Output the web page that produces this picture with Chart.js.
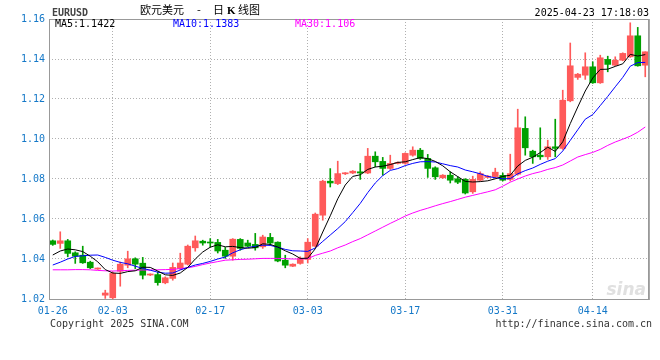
<!DOCTYPE html>
<html>
<head>
<meta charset="utf-8">
<script src="https://cdn.jsdelivr.net/npm/chart.js@4.4.1/dist/chart.umd.min.js"></script>
<style>
  html, body { margin: 0; padding: 0; background: #fff; }
  #wrap { position: relative; width: 660px; height: 360px; }
</style>
</head>
<body>
<div id="wrap"><canvas id="kline" width="660" height="360"></canvas></div>
<script>
// trading days shown on the x axis (MM-DD)
const dates = [
  '01-26', '01-27', '01-28', '01-29', '01-30', '01-31', '02-01', '02-02', '02-03',
  '02-04', '02-05', '02-06', '02-07', '02-08', '02-10', '02-11', '02-12', '02-13', '02-14', '02-15', '02-16', '02-17',
  '02-18', '02-19', '02-20', '02-21', '02-22', '02-24', '02-25', '02-26', '02-27', '02-28', '03-01', '03-02', '03-03',
  '03-04', '03-05', '03-06', '03-07', '03-08', '03-10', '03-11', '03-12', '03-13', '03-14', '03-15', '03-16', '03-17',
  '03-18', '03-19', '03-20', '03-21', '03-22', '03-24', '03-25', '03-26', '03-27', '03-28', '03-29', '03-30', '03-31',
  '04-01', '04-02', '04-03', '04-04', '04-05', '04-07', '04-08', '04-09', '04-10', '04-11', '04-12', '04-14',
  '04-15', '04-16', '04-17', '04-19', '04-21', '04-22', '04-23',
];
const tickDates = ['01-26', '02-03', '02-17', '03-03', '03-17', '03-31', '04-14'];
const yTicks = [1.02, 1.04, 1.06, 1.08, 1.10, 1.12, 1.14, 1.16];

const open = [
  1.0491, 1.0478, 1.0491, 1.0431, 1.0419, 1.0384, 1.0350, 1.0219, 1.0206, 1.0339,
  1.0369, 1.0401, 1.0379, 1.0320, 1.0322, 1.0281, 1.0303, 1.0352, 1.0374, 1.0456,
  1.0489, 1.0482, 1.0483, 1.0444, 1.0414, 1.0498, 1.0480, 1.0473, 1.0461, 1.0508,
  1.0484, 1.0394, 1.0364, 1.0378, 1.0398, 1.0464, 1.0619, 1.0789, 1.0777, 1.0826,
  1.0830, 1.0836, 1.0830, 1.0914, 1.0888, 1.0853, 1.0878, 1.0878, 1.0919, 1.0944,
  1.0903, 1.0856, 1.0806, 1.0819, 1.0801, 1.0798, 1.0736, 1.0794, 1.0808, 1.0812,
  1.0818, 1.0798, 1.0824, 1.1053, 1.0939, 1.0919, 1.0911, 1.0961, 1.0953, 1.1191,
  1.1308, 1.1319, 1.1361, 1.1281, 1.1398, 1.1369, 1.1394, 1.1411, 1.1516, 1.1369,
];
const high = [
  1.0495, 1.0536, 1.0498, 1.0436, 1.0464, 1.0389, 1.0355, 1.0244, 1.0335, 1.0385,
  1.0439, 1.0406, 1.0408, 1.0326, 1.0336, 1.0311, 1.0380, 1.0429, 1.0470, 1.0515,
  1.0494, 1.0502, 1.0498, 1.0458, 1.0502, 1.0502, 1.0494, 1.0528, 1.0519, 1.0528,
  1.0486, 1.0419, 1.0376, 1.0411, 1.0502, 1.0630, 1.0794, 1.0852, 1.0889, 1.0832,
  1.0842, 1.0878, 1.0953, 1.0936, 1.0908, 1.0919, 1.0886, 1.0931, 1.0961, 1.0953,
  1.0923, 1.0861, 1.0822, 1.0836, 1.0811, 1.0802, 1.0814, 1.0836, 1.0818, 1.0854,
  1.0830, 1.0924, 1.1149, 1.1111, 1.0944, 1.1056, 1.0994, 1.1099, 1.1244, 1.1480,
  1.1328, 1.1431, 1.1386, 1.1419, 1.1414, 1.1411, 1.1431, 1.1581, 1.1558, 1.1436,
];
const low = [
  1.0468, 1.0453, 1.0411, 1.0378, 1.0378, 1.0352, 1.0348, 1.0203, 1.0200, 1.0264,
  1.0356, 1.0352, 1.0300, 1.0317, 1.0269, 1.0276, 1.0294, 1.0347, 1.0370, 1.0439,
  1.0469, 1.0460, 1.0430, 1.0403, 1.0394, 1.0444, 1.0462, 1.0444, 1.0453, 1.0469,
  1.0386, 1.0356, 1.0362, 1.0374, 1.0380, 1.0461, 1.0594, 1.0760, 1.0772, 1.0822,
  1.0827, 1.0798, 1.0827, 1.0861, 1.0819, 1.0848, 1.0875, 1.0874, 1.0914, 1.0898,
  1.0808, 1.0798, 1.0803, 1.0780, 1.0777, 1.0725, 1.0728, 1.0792, 1.0805, 1.0804,
  1.0790, 1.0790, 1.0819, 1.0919, 1.0878, 1.0898, 1.0898, 1.0911, 1.0948, 1.1186,
  1.1298, 1.1298, 1.1278, 1.1278, 1.1336, 1.1366, 1.1391, 1.1408, 1.1364, 1.1311,
];
const close = [
  1.0473, 1.0491, 1.0428, 1.0414, 1.0381, 1.0356, 1.0353, 1.0230, 1.0328, 1.0374,
  1.0401, 1.0374, 1.0319, 1.0323, 1.0282, 1.0306, 1.0358, 1.0380, 1.0464, 1.0491,
  1.0480, 1.0480, 1.0440, 1.0414, 1.0499, 1.0453, 1.0464, 1.0456, 1.0510, 1.0480,
  1.0390, 1.0369, 1.0374, 1.0403, 1.0484, 1.0624, 1.0789, 1.0780, 1.0827, 1.0829,
  1.0839, 1.0830, 1.0914, 1.0886, 1.0853, 1.0878, 1.0883, 1.0928, 1.0944, 1.0903,
  1.0853, 1.0811, 1.0819, 1.0794, 1.0784, 1.0730, 1.0798, 1.0827, 1.0814, 1.0834,
  1.0794, 1.0827, 1.1056, 1.0956, 1.0911, 1.0911, 1.0961, 1.0953, 1.1194, 1.1366,
  1.1324, 1.1361, 1.1281, 1.1406, 1.1373, 1.1394, 1.1428, 1.1516, 1.1366, 1.1436,
];

// moving averages as drawn on the chart
const ma5 = [
  1.0420, 1.0440, 1.0450, 1.0446, 1.0437, 1.0414, 1.0386, 1.0347, 1.0330, 1.0328,
  1.0337, 1.0341, 1.0359, 1.0358, 1.0340, 1.0321, 1.0318, 1.0330, 1.0358, 1.0400,
  1.0435, 1.0459, 1.0471, 1.0461, 1.0463, 1.0457, 1.0454, 1.0457, 1.0476, 1.0473,
  1.0460, 1.0441, 1.0425, 1.0403, 1.0404, 1.0451, 1.0535, 1.0616, 1.0701, 1.0770,
  1.0813, 1.0821, 1.0848, 1.0860, 1.0864, 1.0872, 1.0883, 1.0886, 1.0897, 1.0907,
  1.0902, 1.0888, 1.0866, 1.0836, 1.0812, 1.0788, 1.0785, 1.0787, 1.0791, 1.0801,
  1.0813, 1.0819, 1.0865, 1.0893, 1.0909, 1.0932, 1.0959, 1.0938, 1.0986, 1.1077,
  1.1160, 1.1240, 1.1305, 1.1348, 1.1349, 1.1363, 1.1376, 1.1423, 1.1415, 1.1422,
];
const ma10 = [
  1.0370, 1.0384, 1.0400, 1.0413, 1.0416, 1.0419, 1.0420, 1.0408, 1.0394, 1.0383,
  1.0376, 1.0364, 1.0353, 1.0344, 1.0334, 1.0329, 1.0330, 1.0345, 1.0358, 1.0370,
  1.0378, 1.0388, 1.0400, 1.0410, 1.0431, 1.0446, 1.0457, 1.0464, 1.0469, 1.0468,
  1.0459, 1.0448, 1.0441, 1.0440, 1.0438, 1.0455, 1.0488, 1.0520, 1.0552, 1.0587,
  1.0632, 1.0678, 1.0732, 1.0780, 1.0817, 1.0843, 1.0852, 1.0867, 1.0878, 1.0886,
  1.0887, 1.0885, 1.0876, 1.0867, 1.0860, 1.0845, 1.0836, 1.0826, 1.0813, 1.0806,
  1.0801, 1.0802, 1.0826, 1.0842, 1.0855, 1.0873, 1.0889, 1.0902, 1.0940, 1.0993,
  1.1046, 1.1099, 1.1122, 1.1167, 1.1213, 1.1261, 1.1308, 1.1364, 1.1382, 1.1383,
];
const ma30 = [
  1.0346, 1.0346, 1.0346, 1.0347, 1.0347, 1.0346, 1.0343, 1.0341, 1.0340, 1.0341,
  1.0343, 1.0344, 1.0345, 1.0345, 1.0346, 1.0347, 1.0348, 1.0352, 1.0356, 1.0363,
  1.0372, 1.0380, 1.0387, 1.0394, 1.0396, 1.0398, 1.0399, 1.0401, 1.0403, 1.0403,
  1.0403, 1.0402, 1.0400, 1.0400, 1.0402, 1.0418, 1.0429, 1.0440, 1.0456, 1.0470,
  1.0487, 1.0502, 1.0521, 1.0540, 1.0559, 1.0578, 1.0596, 1.0615, 1.0630, 1.0643,
  1.0654, 1.0666, 1.0677, 1.0687, 1.0698, 1.0709, 1.0718, 1.0727, 1.0736, 1.0746,
  1.0764, 1.0784, 1.0800, 1.0815, 1.0827, 1.0836, 1.0848, 1.0857, 1.0870, 1.0890,
  1.0910, 1.0922, 1.0933, 1.0948, 1.0968, 1.0985, 1.0999, 1.1014, 1.1034, 1.1060,
];

const UP = '#ff5a5a';
const DOWN = '#00a000';
const AXIS_BLUE = '#1478c8';
const MONO = '"DejaVu Sans Mono", "Liberation Mono", monospace';
const CJK = '"Noto Sans CJK SC", sans-serif';

const candleColors = close.map((c, i) => (c >= open[i] ? UP : DOWN));
const bodies = open.map((o, i) => [Math.min(o, close[i]), Math.max(o, close[i])]);
const wicks = low.map((l, i) => [l, high[i]]);

const trimNum = (v) => String(+v.toFixed(4));

// frame, header, footer and watermark
const decor = {
    id: 'decor',
    beforeDatasetsDraw(chart) {
        const { ctx, chartArea: a } = chart;
        ctx.save();
        ctx.font = 'italic bold 17px "DejaVu Sans", sans-serif';
        ctx.fillStyle = '#e0e0e0';
        ctx.textAlign = 'right';
        ctx.textBaseline = 'alphabetic';
        ctx.fillText('sina', a.right - 3, a.bottom - 4);
        ctx.restore();
    },
    afterDraw(chart) {
        const { ctx, chartArea: a } = chart;
        ctx.save();
        ctx.strokeStyle = '#999';
        ctx.lineWidth = 1;
        ctx.strokeRect(a.left + 0.5, a.top + 0.5, a.right - a.left - 1, a.bottom - a.top);
        ctx.strokeStyle = '#aaa';
        ctx.beginPath();
        ctx.moveTo(a.right + 0.5, a.top);
        ctx.lineTo(a.right + 0.5, a.bottom + 1);
        ctx.stroke();

        ctx.textBaseline = 'alphabetic';
        ctx.textAlign = 'left';
        ctx.font = 'bold 10px ' + MONO;
        ctx.fillStyle = '#444';
        ctx.fillText('EURUSD', 52, 15.5);

        // title: 欧元美元 - 日K线图
        ctx.fillStyle = '#000';
        ctx.font = '11px ' + CJK;
        ctx.fillText('欧元美元', 140, 14);
        ctx.fillText('-', 197, 14);
        ctx.fillText('日', 213, 14);
        ctx.font = 'bold 11px "Liberation Serif", serif';
        ctx.fillText('K', 227, 14);
        ctx.font = '11px ' + CJK;
        ctx.fillText('线图', 238, 14);

        ctx.font = '10px ' + MONO;
        ctx.textAlign = 'right';
        ctx.fillText('2025-04-23 17:18:03', 649, 15.5);

        ctx.textAlign = 'left';
        ctx.fillStyle = '#000';
        ctx.fillText('MA5:' + trimNum(ma5[ma5.length - 1]), 55, 27);
        ctx.fillStyle = '#0000ff';
        ctx.fillText('MA10:' + trimNum(ma10[ma10.length - 1]), 173, 27);
        ctx.fillStyle = '#ff00ff';
        ctx.fillText('MA30:' + trimNum(ma30[ma30.length - 1]), 295, 27);

        ctx.fillStyle = '#333';
        ctx.fillText('Copyright 2025 SINA.COM', 50, 327);
        ctx.textAlign = 'right';
        ctx.fillText('http://finance.sina.com.cn', 652, 327);
        ctx.restore();
    },
};

const maLine = (label, data, color) => ({
    type: 'line',
    label,
    data,
    borderColor: color,
    borderWidth: 1,
    pointRadius: 0,
    tension: 0,
    fill: false,
    order: 0,
});

new Chart(document.getElementById('kline'), {
    type: 'bar',
    data: {
        labels: dates,
        datasets: [
            maLine('MA5', ma5, '#000000'),
            maLine('MA10', ma10, '#0000ff'),
            maLine('MA30', ma30, '#ff00ff'),
            {
                label: 'body',
                data: bodies,
                backgroundColor: candleColors,
                barThickness: 6,
                minBarLength: 1,
                grouped: false,
                order: 1,
            },
            {
                label: 'wick',
                data: wicks,
                backgroundColor: candleColors,
                barThickness: 1,
                grouped: false,
                order: 2,
            },
        ],
    },
    options: {
        responsive: false,
        animation: false,
        devicePixelRatio: 1,
        layout: { padding: { top: 19, right: 11, left: 0, bottom: 0 } },
        plugins: { legend: { display: false }, tooltip: { enabled: false } },
        scales: {
            x: {
                offset: true,
                grid: {
                    offset: false,
                    drawTicks: false,
                    color: (c) => (c.index > 0 && tickDates.includes(dates[c.index]) ? '#b0b0b0' : 'rgba(0,0,0,0)'),
                },
                border: { display: false, dash: [1, 2] },
                ticks: {
                    autoSkip: false,
                    maxRotation: 0,
                    padding: 6,
                    color: AXIS_BLUE,
                    font: { family: MONO, size: 10 },
                    callback: (v, i) => (tickDates.includes(dates[i]) ? dates[i] : ''),
                },
                afterFit: (s) => { s.height = 61; },
            },
            y: {
                min: yTicks[0],
                max: yTicks[yTicks.length - 1],
                afterBuildTicks: (s) => { s.ticks = yTicks.map((v) => ({ value: v })); },
                grid: {
                    drawTicks: false,
                    color: (c) => (c.index > 0 && c.index < yTicks.length - 1 ? '#b0b0b0' : 'rgba(0,0,0,0)'),
                },
                border: { display: false, dash: [1, 2] },
                ticks: {
                    padding: 4,
                    color: AXIS_BLUE,
                    font: { family: MONO, size: 10 },
                    callback: (v) => v.toFixed(2),
                },
                afterFit: (s) => { s.width = 49; },
            },
        },
    },
    plugins: [decor],
});
</script>
</body>
</html>
